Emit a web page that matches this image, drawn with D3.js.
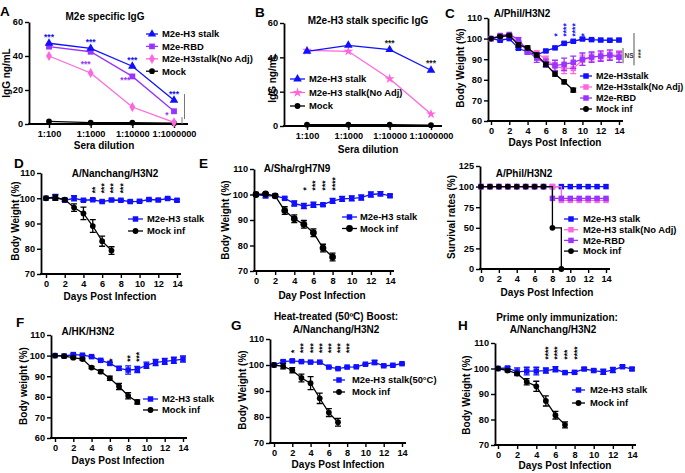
<!DOCTYPE html>
<html><head><meta charset="utf-8">
<script src="https://cdn.jsdelivr.net/npm/d3@7"></script>
<style>
html,body{margin:0;padding:0;background:#fff;}
svg text{font-family:"Liberation Sans",Arial,Helvetica,sans-serif;font-weight:bold;}
</style></head><body>
<svg id="fig" width="685" height="473"></svg>
<script>
// ---------------- DATA ----------------
const dilutions = ["1:100","1:1000","1:10000","1:1000000"];
const days = [0,1,2,3,4,5,6,7,8,9,10,11,12,13,14];
const dayTicks = [0,2,4,6,8,10,12,14];

// Panel A: M2e specific IgG
const A_stalk = [47.5,44.5,34,14];
const A_rbd   = [45.5,42.5,28,7.5];
const A_noadj = [40,30,10,1];
const A_mock  = [1.5,0.8,0.8,0.5];
const A_starsStalk = ["***","***","***","***"];
const A_starsRBD   = ["","***","***","*"];
const A_legend = ["M2e-H3 stalk","M2e-RBD","M2e-H3stalk(No Adj)","Mock"];

// Panel B: M2e-H3 stalk specific IgG
const B_stalk = [43.5,47,44.5,32.5];
const B_noadj = [44,43.5,27.5,7];
const B_mock  = [0.8,0.8,0.8,0.5];
const B_stars = ["","","***","***"];
const B_legend = ["M2e-H3 stalk","M2e-H3 stalk(No Adj)","Mock"];

// Panel C: A/Phil/H3N2 body weight
const C_stalk = [100,99.2,100,95.3,93.5,92,94,95.5,97.7,98.7,99.8,99.5,99.3,99.2,99.3];
const C_stalkErr = [0,0.4,0.4,0.5,0.5,0.5,0.5,0.5,0.5,0.5,0.5,0.5,0.4,0.4,0.5];
const C_noadj = [100,101,101.5,98,94,93,90,86.5,85.5,85.5,89.5,91,91.5,92,92];
const C_noadjErr = [0,0.5,0.5,1,1,1,1.5,2,2.5,2.5,2.5,2,2,2,2];
const C_rbd = [100,101.5,102,99.5,94,90.5,88,87,87.5,88.5,90,91,91.5,92,91];
const C_rbdErr = [0,0.5,0.5,1,1.5,2,2,2.5,3,3,3,2.5,2.5,2.5,2.5];
const C_mock = [100,101,101.5,97,95.5,92,87.5,82.8,79,75];
const C_mockErr = [0,0.5,0.5,1,1,1,1,1,1,1];
const C_stars = ["","","","","","","","*","****","****","*"];
const C_legend = ["M2e-H3stalk","M2e-H3stalk(No Adj)","M2e-RBD","Mock inf"];

// Panel D: A/Nanchang/H3N2
const D_stalk = [100,100.5,99.2,100,99.2,99.4,98.7,99.3,99.2,98.7,98.8,99.5,99.3,99.9,99.2];
const D_stalkErr = [0,1,0.5,1,0.4,0.4,0.4,0.4,0.4,0.4,0.4,0.4,0.4,0.4,0.4];
const D_mock = [100,100.2,99.5,96.3,94,89,83,79.3];
const D_mockErr = [0,1,0.5,1.5,2.5,2.5,2,1.5];
const D_stars = ["","","","","","**","***","***","***"];
const D_legend = ["M2e-H3 stalk","Mock inf"];

// Panel E: A/Sha/rgH7N9
const E_stalk = [100,99.5,99.5,98.5,96.5,95.5,96,96,97.5,98.3,98.5,98.8,100,100.3,99.5];
const E_stalkErr = [0,0.8,0.5,0.5,1,1,1,0.5,1,1,1,1,1,0.8,0.5];
const E_mock = [100,100.2,99.5,93.7,90.5,88.3,85,79,75.5];
const E_mockErr = [0,0.5,0.5,1.5,1.5,1.5,1.5,1.5,1.5];
const E_stars = ["","","","","","*","***","***","****"];
const E_legend = ["M2e-H3 stalk","Mock inf"];

// Survival: A/Phil/H3N2
const S_stalk = [100,100,100,100,100,100,100,100,100,100,100,100,100,100,100];
const S_noadj = [100,100,100,100,100,100,100,100,100,83.3,83.3,83.3,83.3,83.3,83.3];
const S_rbd   = [100,100,100,100,100,100,100,100,85.7,85.7,85.7,85.7,85.7,85.7,85.7];
const S_mock  = [100,100,100,100,100,100,100,100,50,0];
const S_legend = ["M2e-H3 stalk","M2e-H3 stalk(No Adj)","M2e-RBD","Mock inf"];

// Panel F: A/HK/H3N2
const F_stalk = [100,99.8,100.5,100.2,99.5,97.7,96.2,93.8,93,93.3,95.3,96.7,97.2,97.7,98.3];
const F_stalkErr = [0,0.3,0.4,0.3,0.3,0.4,0.5,1,2,1.5,1.5,1.5,1.5,1.5,1.5];
const F_mock = [100,99.7,99,98.3,94.2,92.2,89,85,80.5,77.5];
const F_mockErr = [0,0.3,0.5,0.5,0.5,0.8,1,1.5,1.5,1];
const F_stars = ["","","","","","","*","","**","***"];
const F_legend = ["M2-H3 stalk","Mock inf"];

// Panel G: Heat-treated boost
const G_stalk = [100,101.3,101.6,101.3,101.1,101.1,99.2,98.6,99.2,99.3,100.3,101,99.7,99.9,100.5];
const G_stalkErr = [0,0.5,0.5,0.3,0.3,0.3,0.3,0.3,0.3,0.3,0.3,0.8,0.3,0.3,0.3];
const G_mock = [100,99.5,98,95,93,87.2,81.7,78];
const G_mockErr = [0,1,1,1.5,2.5,2,1.5,1.5];
const G_stars = ["","","*","***","***","***","***","***","***"];
const G_legend = ["M2e-H3 stalk(50°C)","Mock inf"];

// Panel H: Prime only
const H_stalk = [100,100.2,98.7,99,99,99.2,99.7,98.4,98.5,99.8,99.2,98.7,99.4,100.7,99.8];
const H_stalkErr = [0,0.5,1.5,1.5,1.5,1,1,0.5,0.5,0.5,0.5,1,1,0.5,0.5];
const H_mock = [100,99.2,98,94.8,93,87.3,81.7,77.9];
const H_mockErr = [0,0.5,0.5,1.2,2,2,1.5,1.2];
const H_stars = ["","","","","","****","****","***","****"];
const H_legend = ["M2e-H3 stalk","Mock inf"];

// ---------------- STYLE ----------------
const BLUE = "#1010ff", PURPLE = "#9933ff", PINK = "#ff66dd", BLACK = "#000000";
const SQ = d3.symbolSquare, CI = d3.symbolCircle, TR = d3.symbolTriangle, DI = d3.symbolDiamond, ST = d3.symbolStar;
const svg = d3.select("#fig");

function txt(g, x, y, s, size, o = {}) {
  const t = g.append("text").attr("x", x).attr("y", y).text(s)
    .attr("font-size", size).attr("fill", o.fill || "#000")
    .attr("text-anchor", o.anchor || "middle");
  if (o.rotate) t.attr("transform", `rotate(-90,${x},${y})`);
  if (o.weight) t.attr("font-weight", o.weight);
  return t;
}

function drawAxes(g, x, y, c) {
  const yb = y.range()[0];
  const ya = g.append("g").attr("transform", `translate(${c.axisX},0)`)
    .call(d3.axisLeft(y).tickValues(c.yTicks).tickSize(4).tickSizeOuter(0).tickPadding(2));
  const xa = g.append("g").attr("transform", `translate(0,${yb})`)
    .call(d3.axisBottom(x).tickValues(c.xTicks || x.domain()).tickSize(4).tickSizeOuter(0).tickPadding(2));
  xa.select(".domain").remove();
  g.append("line").attr("x1", c.axisX - 0.9).attr("x2", c.xEnd).attr("y1", yb).attr("y2", yb)
    .attr("stroke", "#000").attr("stroke-width", 1.8);
  [ya, xa].forEach(a => {
    a.attr("font-family", '"Liberation Sans", Arial, sans-serif').attr("font-size", 9.2).attr("font-weight", "bold");
    a.selectAll("line").attr("stroke-width", 1.4);
    a.selectAll(".domain").attr("stroke-width", 1.8);
    a.selectAll("text").attr("fill", "#000");
  });
}

function drawSeries(g, x, y, xs, vals, errs, color, sym, size, curve) {
  const pts = vals.map((v, i) => ({ x: xs[i], v, e: errs ? errs[i] : 0 }));
  g.append("path").datum(pts)
    .attr("d", d3.line().x(d => x(d.x)).y(d => y(d.v)).curve(curve || d3.curveLinear))
    .attr("fill", "none").attr("stroke", color).attr("stroke-width", 1.3);
  pts.filter(d => d.e > 0).forEach(d => {
    const cx = x(d.x), y1 = y(d.v - d.e), y2 = y(d.v + d.e);
    g.append("path").attr("d", `M${cx},${y1}V${y2}M${cx - 3},${y1}H${cx + 3}M${cx - 3},${y2}H${cx + 3}`)
      .attr("stroke", color).attr("stroke-width", 1.3).attr("fill", "none");
  });
  g.selectAll(null).data(pts).enter().append("path")
    .attr("transform", d => `translate(${x(d.x)},${y(d.v)})`)
    .attr("d", d3.symbol().type(sym).size(size)).attr("fill", color);
}

function drawLegend(g, L, labels) {
  L.items.forEach((it, i) => {
    const yy = L.y0 + i * L.dy;
    g.append("line").attr("x1", L.x1).attr("x2", L.x2).attr("y1", yy).attr("y2", yy)
      .attr("stroke", it.color).attr("stroke-width", 1.3);
    g.append("path").attr("transform", `translate(${(L.x1 + L.x2) / 2},${yy})`)
      .attr("d", d3.symbol().type(it.sym).size(it.size || 30)).attr("fill", it.color);
    g.append("text").attr("x", L.tx).attr("y", yy).attr("dy", "0.36em").attr("text-anchor", "start")
      .attr("font-size", L.fs || 9.4).attr("fill", "#000").text(labels[i]);
  });
}

function drawVStars(g, x, y, labels, baseVal, color) {
  labels.forEach((s, i) => {
    if (!s) return;
    g.append("text").attr("transform", `translate(${x(i)},${y(baseVal)}) rotate(-90)`)
      .attr("dy", "0.58em").attr("text-anchor", "start").attr("font-size", 8.5)
      .attr("fill", color).text(s);
  });
}

function weightPanel(c) {
  const g = svg.append("g");
  const x = d3.scaleLinear().domain([0, 14]).range([c.d0, c.d14]);
  const y = d3.scaleLinear().domain(c.yDomain).range([c.yBot, c.yTop]);
  drawAxes(g, x, y, { axisX: c.axisX, xEnd: c.xEnd, yTicks: c.yTicks, xTicks: dayTicks });
  c.series.forEach(s => drawSeries(g, x, y, days, s.values, s.err, s.color, s.sym, s.size || 30, c.curve));
  if (c.stars) drawVStars(g, x, y, c.stars.labels, c.stars.base, c.stars.color);
  drawLegend(g, c.legend, c.legendLabels);
  c.titles.forEach(t => txt(g, t.x, t.y, t.t, 10));
  txt(g, c.xlab.x, c.xlab.y, c.xlab.t, 10);
  txt(g, c.ylab.x, c.ylab.y, c.ylab.t, 10, { rotate: true });
  if (c.letter) txt(g, c.letter.x, c.letter.y, c.letter.t, 13.5, { anchor: "start" });
  return { g, x, y };
}

// ---------------- PANEL A ----------------
(function () {
  const g = svg.append("g");
  const x = d3.scalePoint().domain(dilutions).range([49, 174]);
  const y = d3.scaleLinear().domain([0, 60]).range([124, 22]);
  drawAxes(g, x, y, { axisX: 29, xEnd: 188, yTicks: [0, 20, 40, 60], xTicks: dilutions });
  drawSeries(g, x, y, dilutions, A_mock, null, BLACK, CI, 26);
  drawSeries(g, x, y, dilutions, A_noadj, null, PINK, DI, 30);
  drawSeries(g, x, y, dilutions, A_rbd, null, PURPLE, SQ, 34);
  drawSeries(g, x, y, dilutions, A_stalk, null, BLUE, TR, 32);
  A_starsStalk.forEach((s, i) => { if (s) txt(g, x(dilutions[i]), y(A_stalk[i]) - 3, s, 8.5, { fill: BLUE }); });
  A_starsRBD.forEach((s, i) => {
    if (s) txt(g, x(dilutions[i]) - (i === 1 ? 5 : 7), y(A_rbd[i]) + (i === 1 ? 15 : 7), s, 8.5, { fill: PURPLE });
  });
  // significance bars at right
  g.append("line").attr("x1", 182).attr("x2", 182).attr("y1", y(4)).attr("y2", y(0)).attr("stroke", "#777").attr("stroke-width", 1);
  g.append("line").attr("x1", 184.5).attr("x2", 184.5).attr("y1", y(17.6)).attr("y2", y(2.9)).attr("stroke", "#777").attr("stroke-width", 1);
  drawLegend(g, { x1: 146, x2: 158, tx: 162, y0: 34, dy: 12.4, items: [
    { color: BLUE, sym: TR, size: 30 }, { color: PURPLE, sym: SQ, size: 32 },
    { color: PINK, sym: DI, size: 30 }, { color: BLACK, sym: CI, size: 26 }] }, A_legend);
  txt(g, 105, 20, "M2e specific IgG", 10);
  txt(g, 104, 149, "Sera dilution", 10);
  txt(g, 10, 73, "IgG ng/mL", 10, { rotate: true });
  txt(g, 0, 16, "A", 13.5, { anchor: "start" });
})();

// ---------------- PANEL B ----------------
(function () {
  const g = svg.append("g");
  const x = d3.scalePoint().domain(dilutions).range([307, 431]);
  const y = d3.scaleLinear().domain([0, 60]).range([126, 23]);
  drawAxes(g, x, y, { axisX: 284, xEnd: 442, yTicks: [0, 20, 40, 60], xTicks: dilutions });
  drawSeries(g, x, y, dilutions, B_mock, null, BLACK, CI, 26);
  drawSeries(g, x, y, dilutions, B_noadj, null, PINK, ST, 30);
  drawSeries(g, x, y, dilutions, B_stalk, null, BLUE, TR, 32);
  B_stars.forEach((s, i) => { if (s) txt(g, x(dilutions[i]), y(B_stalk[i]) - 4, s, 8.5, { fill: "#222" }); });
  drawLegend(g, { x1: 290, x2: 305, tx: 309, y0: 79, dy: 13.5, items: [
    { color: BLUE, sym: TR, size: 32 }, { color: PINK, sym: ST, size: 30 }, { color: BLACK, sym: CI, size: 26 }] }, B_legend);
  txt(g, 368, 24, "M2e-H3 stalk specific IgG", 10);
  txt(g, 368, 153, "Sera dilution", 10);
  txt(g, 276, 78, "IgG ng/mL", 10, { rotate: true });
  txt(g, 255, 17, "B", 13.5, { anchor: "start" });
})();

// ---------------- PANEL C ----------------
(function () {
  const p = weightPanel({
    d0: 491, d14: 619, axisX: 488, xEnd: 623, yBot: 121, yTop: 18, yDomain: [60, 110],
    yTicks: [60, 70, 80, 90, 100, 110],
    series: [
      { values: C_stalk, err: C_stalkErr, color: BLUE, sym: SQ },
      { values: C_noadj, err: C_noadjErr, color: PINK, sym: SQ },
      { values: C_rbd, err: C_rbdErr, color: PURPLE, sym: SQ },
      { values: C_mock, err: C_mockErr, color: BLACK, sym: CI, size: 26 }],
    stars: { labels: C_stars, base: 101, color: BLUE },
    legend: { x1: 580, x2: 592, tx: 596, y0: 76, dy: 11, fs: 9, items: [
      { color: BLUE, sym: SQ }, { color: PINK, sym: SQ }, { color: PURPLE, sym: SQ }, { color: BLACK, sym: CI, size: 26 }] },
    legendLabels: C_legend,
    titles: [{ t: "A/Phil/H3N2", x: 522, y: 17 }],
    xlab: { t: "Days Post Infection", x: 555, y: 146 },
    ylab: { t: "Body Weight (%)", x: 464, y: 68 },
    letter: { t: "C", x: 445, y: 18 }
  });
  const g = p.g, y = p.y;
  g.append("line").attr("x1", 623).attr("x2", 623).attr("y1", y(95.4)).attr("y2", y(88)).attr("stroke", "#555").attr("stroke-width", 1);
  g.append("line").attr("x1", 634).attr("x2", 634).attr("y1", y(102.7)).attr("y2", y(87)).attr("stroke", "#555").attr("stroke-width", 1);
  txt(g, 629, y(90.6), "NS", 6.5, { weight: "normal", fill: "#333" });
  g.append("text").attr("transform", `translate(639,${y(90.5)}) rotate(-90)`).attr("dy", "0.58em")
    .attr("font-size", 7.5).attr("fill", "#333").text("***");
})();

// ---------------- PANEL D ----------------
weightPanel({
  d0: 46, d14: 177, axisX: 41, xEnd: 181, yBot: 274, yTop: 173, yDomain: [70, 110],
  yTicks: [70, 80, 90, 100, 110],
  series: [
    { values: D_stalk, err: D_stalkErr, color: BLUE, sym: SQ },
    { values: D_mock, err: D_mockErr, color: BLACK, sym: CI, size: 26 }],
  stars: { labels: D_stars, base: 102, color: BLACK },
  legend: { x1: 128, x2: 143, tx: 147, y0: 219, dy: 12, items: [{ color: BLUE, sym: SQ }, { color: BLACK, sym: CI, size: 26 }] },
  legendLabels: D_legend,
  titles: [{ t: "A/Nanchang/H3N2", x: 115, y: 177 }],
  xlab: { t: "Days Post Infection", x: 110, y: 300 },
  ylab: { t: "Body Weight (%)", x: 19, y: 221 },
  letter: { t: "D", x: 14, y: 168 }
});

// ---------------- PANEL E ----------------
weightPanel({
  d0: 256, d14: 390, axisX: 254, xEnd: 394, yBot: 271, yTop: 169, yDomain: [70, 110],
  yTicks: [70, 80, 90, 100, 110],
  series: [
    { values: E_stalk, err: E_stalkErr, color: BLUE, sym: SQ },
    { values: E_mock, err: E_mockErr, color: BLACK, sym: CI, size: 36 }],
  stars: { labels: E_stars, base: 101.6, color: BLACK },
  legend: { x1: 342, x2: 357, tx: 360, y0: 217, dy: 11.5, items: [{ color: BLUE, sym: SQ }, { color: BLACK, sym: CI, size: 36 }] },
  legendLabels: E_legend,
  titles: [{ t: "A/Sha/rgH7N9", x: 297, y: 172 }],
  xlab: { t: "Day Post Infection", x: 322, y: 299 },
  ylab: { t: "Body Weight (%)", x: 229, y: 220 },
  letter: { t: "E", x: 199, y: 168 }
});

// ---------------- SURVIVAL ----------------
weightPanel({
  d0: 481, d14: 606, axisX: 480, xEnd: 610, yBot: 269, yTop: 166, yDomain: [0, 125],
  yTicks: [0, 25, 50, 75, 100, 125], curve: d3.curveStepAfter,
  series: [
    { values: S_stalk, err: null, color: BLUE, sym: SQ },
    { values: S_noadj, err: null, color: PINK, sym: SQ },
    { values: S_rbd, err: null, color: PURPLE, sym: SQ },
    { values: S_mock, err: null, color: BLACK, sym: CI, size: 26 }],
  legend: { x1: 564, x2: 578, tx: 583, y0: 219, dy: 10.7, items: [
    { color: BLUE, sym: SQ }, { color: PINK, sym: SQ }, { color: PURPLE, sym: SQ }, { color: BLACK, sym: CI, size: 26 }] },
  legendLabels: S_legend,
  titles: [{ t: "A/Phil/H3N2", x: 524, y: 177 }],
  xlab: { t: "Days Post Infection", x: 547, y: 296 },
  ylab: { t: "Survival rates (%)", x: 455, y: 217 },
  letter: null
});

// ---------------- PANEL F ----------------
weightPanel({
  d0: 55, d14: 183, axisX: 51, xEnd: 187, yBot: 438, yTop: 335, yDomain: [60, 110],
  yTicks: [60, 70, 80, 90, 100, 110],
  series: [
    { values: F_stalk, err: F_stalkErr, color: BLUE, sym: SQ },
    { values: F_mock, err: F_mockErr, color: BLACK, sym: CI, size: 26 }],
  stars: { labels: F_stars, base: 97, color: BLACK },
  legend: { x1: 143, x2: 158, tx: 162, y0: 399, dy: 11, items: [{ color: BLUE, sym: SQ }, { color: BLACK, sym: CI, size: 26 }] },
  legendLabels: F_legend,
  titles: [{ t: "A/HK/H3N2", x: 88, y: 335 }],
  xlab: { t: "Days Post Infection", x: 118, y: 464 },
  ylab: { t: "Body weight (%)", x: 27, y: 386 },
  letter: { t: "F", x: 16, y: 327 }
});

// ---------------- PANEL G ----------------
weightPanel({
  d0: 274, d14: 402, axisX: 270, xEnd: 406, yBot: 443, yTop: 339, yDomain: [70, 110],
  yTicks: [70, 80, 90, 100, 110],
  series: [
    { values: G_stalk, err: G_stalkErr, color: BLUE, sym: SQ },
    { values: G_mock, err: G_mockErr, color: BLACK, sym: CI, size: 26 }],
  stars: { labels: G_stars, base: 104.6, color: BLACK },
  legend: { x1: 333, x2: 345, tx: 352, y0: 380, dy: 12, items: [{ color: BLUE, sym: SQ }, { color: BLACK, sym: CI, size: 26 }] },
  legendLabels: G_legend,
  titles: [{ t: "Heat-treated (50ºC) Boost:", x: 336, y: 320 }, { t: "A/Nanchang/H3N2", x: 336, y: 333 }],
  xlab: { t: "Days Post Infection", x: 338, y: 468 },
  ylab: { t: "Body Weight (%)", x: 246, y: 390 },
  letter: { t: "G", x: 231, y: 330 }
});

// ---------------- PANEL H ----------------
weightPanel({
  d0: 498, d14: 632, axisX: 495, xEnd: 636, yBot: 445, yTop: 343, yDomain: [70, 110],
  yTicks: [70, 80, 90, 100, 110],
  series: [
    { values: H_stalk, err: H_stalkErr, color: BLUE, sym: SQ },
    { values: H_mock, err: H_mockErr, color: BLACK, sym: CI, size: 26 }],
  stars: { labels: H_stars, base: 103.5, color: BLACK },
  legend: { x1: 572, x2: 585, tx: 590, y0: 390, dy: 13, items: [{ color: BLUE, sym: SQ }, { color: BLACK, sym: CI, size: 26 }] },
  legendLabels: H_legend,
  titles: [{ t: "Prime only immunization:", x: 557, y: 321 }, { t: "A/Nanchang/H3N2", x: 553, y: 333 }],
  xlab: { t: "Days Post Infection", x: 565, y: 469 },
  ylab: { t: "Body Weight (%)", x: 470, y: 395 },
  letter: { t: "H", x: 458, y: 330 }
});
</script>
</body></html>
